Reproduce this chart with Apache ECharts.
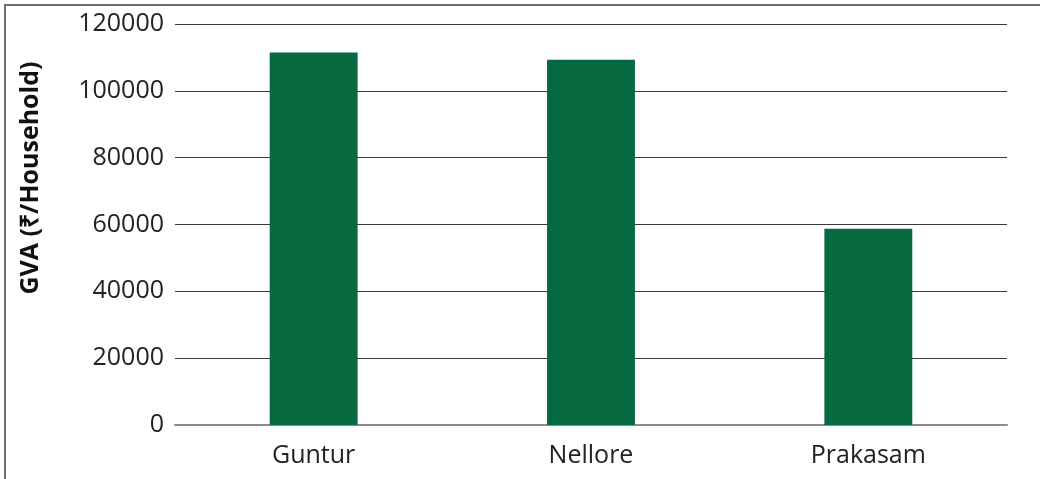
<!DOCTYPE html>
<html><head><meta charset="utf-8">
<script src="https://cdn.jsdelivr.net/npm/echarts@6/dist/echarts.min.js"></script>
<style>html,body{margin:0;padding:0;background:#fff}#c{width:1040px;height:479px}</style>
</head><body><div id="c"></div>
<script>
const categories = ['Guntur', 'Nellore', 'Prakasam'];
const gvaValues = [111500, 109300, 58700];
const yTicks = [0, 20000, 40000, 60000, 80000, 100000, 120000];
const yTitle = 'GVA (₹/Household)';

const chart = echarts.init(document.getElementById('c'), null, {renderer: 'canvas'});
chart.setOption({
  animation: false,
  backgroundColor: '#fff',
  graphic: [{
    type: 'rect', shape: {x: 5, y: 5, width: 1200, height: 600},
    style: {fill: 'none', stroke: '#6e6e6e', lineWidth: 2}, silent: true
  }, {
    type: 'text', x: 31, y: 178, rotation: Math.PI / 2, silent: true,
    style: {text: yTitle, fill: '#111', font: 'bold 25px "Open Sans"', align: 'center', verticalAlign: 'middle'}
  }],
  grid: {left: 175, right: 33, top: 24, bottom: 54, containLabel: false},
  xAxis: {
    type: 'category', data: categories,
    axisLine: {show: true, lineStyle: {color: '#8c8c8c', width: 2}},
    axisTick: {show: false},
    axisLabel: {color: '#222', fontFamily: 'Open Sans', fontSize: 25, margin: 18}
  },
  yAxis: {
    type: 'value', min: yTicks[0], max: yTicks[yTicks.length - 1], interval: 20000,
    axisLine: {show: false}, axisTick: {show: false},
    splitLine: {lineStyle: {color: '#3a3a3a', width: 1}},
    axisLabel: {color: '#222', fontFamily: 'Open Sans', fontSize: 25, margin: 11,
      formatter: v => String(v)}
  },
  series: [{
    type: 'bar', data: gvaValues, barWidth: '31.7%',
    itemStyle: {color: '#07693F'}
  }]
});
</script></body></html>
